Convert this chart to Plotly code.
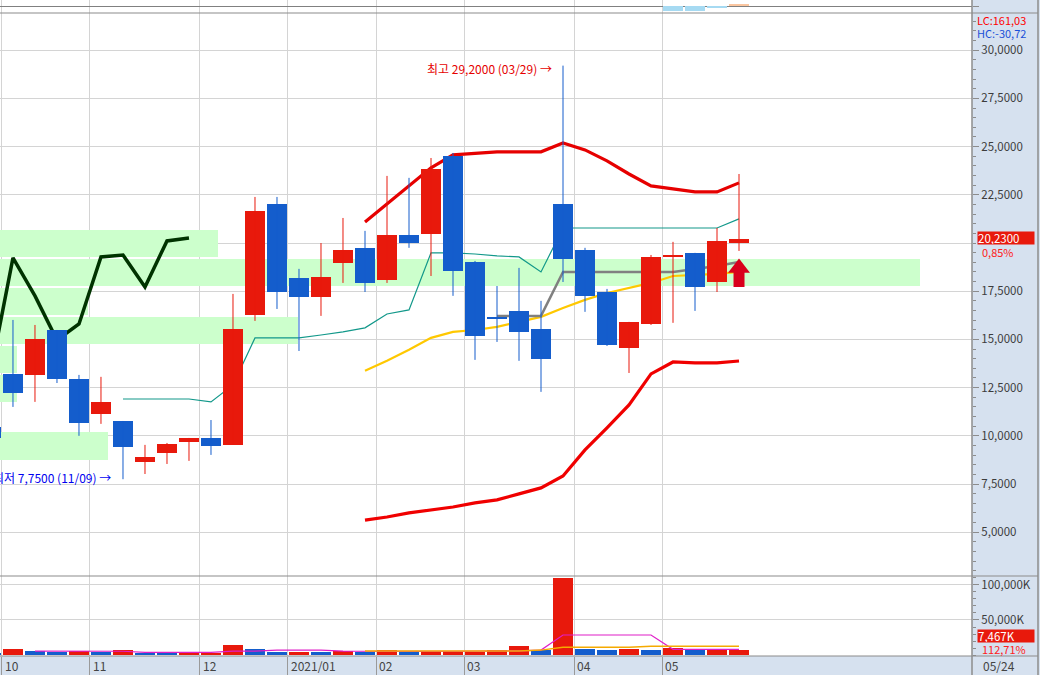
import plotly.graph_objects as go
from datetime import date

# ---------------- data (weekly, 2020-09-28 .. 2021-05-24) ----------------
weeks = ["2020-09-28", "2020-10-05", "2020-10-12", "2020-10-19", "2020-10-26",
         "2020-11-02", "2020-11-09", "2020-11-16", "2020-11-23", "2020-11-30",
         "2020-12-07", "2020-12-14", "2020-12-21", "2020-12-28", "2021-01-04",
         "2021-01-11", "2021-01-18", "2021-01-25", "2021-02-01", "2021-02-08",
         "2021-02-15", "2021-02-22", "2021-03-01", "2021-03-08", "2021-03-15",
         "2021-03-22", "2021-03-29", "2021-04-05", "2021-04-12", "2021-04-19",
         "2021-04-26", "2021-05-03", "2021-05-10", "2021-05-17", "2021-05-24"]

opens = [10.46, 13.21, 13.16, 15.49, 12.95, 11.14, 10.77, 8.65, 9.11, 9.68,
         9.89, 9.53, 16.27, 22.03, 18.19, 17.20, 18.97, 19.75, 18.09, 20.42,
         20.47, 24.52, 19.02, 16.15, 16.48, 15.54, 22.03, 19.64, 17.46, 14.56,
         15.80, 19.28, 19.49, 17.98, 20.00]
highs = [10.82, 16.01, 15.75, 15.49, 13.16, 13.06, 10.77, 9.53, 9.63, 9.89,
         10.82, 17.36, 22.39, 22.39, 18.66, 20.00, 21.30, 20.63, 23.48, 23.38,
         24.41, 24.67, 19.07, 17.77, 18.71, 17.00, 29.20, 19.75, 17.62, 15.91,
         19.38, 20.06, 19.49, 20.78, 23.58]
lows = [9.50, 11.50, 11.76, 12.74, 10.00, 10.62, 7.75, 8.02, 8.54, 8.70,
        9.01, 9.53, 15.96, 16.58, 14.40, 16.22, 17.93, 17.46, 17.93, 19.75,
        18.29, 17.26, 13.94, 14.87, 13.89, 12.28, 17.98, 16.43, 14.66, 13.26,
        15.75, 15.86, 16.48, 17.46, 19.59]
closes = [9.89, 12.23, 15.03, 12.95, 10.67, 11.76, 9.42, 8.91, 9.58, 9.89,
          9.48, 15.54, 21.67, 17.46, 17.20, 18.24, 19.64, 17.93, 20.42, 20.00,
          23.84, 18.55, 15.18, 16.09, 15.39, 13.99, 19.18, 17.26, 14.71, 15.91,
          19.28, 19.36, 17.72, 20.11, 20.23]

# volume in K
volumes_k = [2900, 8600, 5700, 4700, 5700, 4700, 7100, 3300, 3300, 3400,
             3500, 14300, 8600, 4300, 4400, 4300, 5700, 4200, 7100, 4300,
             4400, 4500, 5000, 7100, 12900, 7000, 110000, 8500, 7200, 8400,
             7100, 10000, 7000, 8300, 7467]
volume_up = [0, 1, 0, 0, 1, 0, 1, 0, 0, 1,
             1, 1, 0, 0, 1, 0, 1, 0, 1, 0,
             1, 1, 1, 1, 1, 0, 1, 0, 0, 1,
             0, 1, 0, 1, 1]
# volume averages (start at week index 2 and 17 respectively)
vol_avg_short = [5700, 5600, 5600, 5600, 5400, 3900, 3900, 3900, 3900, 5600,
                 5700, 7100, 7100, 7100, 5700, 5400, 5300, 5300, 5300, 5300,
                 5300, 5700, 6000, 7100, 28600, 28600, 28600, 28600, 28600, 8100,
                 8100, 8100, 8100]
vol_avg_long = [5700, 5700, 5700, 5700, 5700, 5700, 5700, 5800, 7000, 11000,
                11000, 11000, 11000, 12400, 12400, 12400, 12400, 12400]

# price overlays
band_upper = [21.09, 22.03, 22.96, 23.90, 24.57, 24.67, 24.73, 24.73, 24.73, 25.19,
              24.83, 24.26, 23.58, 22.96, 22.81, 22.65, 22.65, 23.12]
band_lower = [5.63, 5.79, 6.00, 6.16, 6.31, 6.52, 6.68, 6.99, 7.30, 7.92,
              9.27, 10.41, 11.60, 13.21, 13.83, 13.78, 13.78, 13.88]
avg_yellow = [13.37, 13.89, 14.46, 15.08, 15.39, 15.49, 15.65, 15.91, 16.17, 16.63,
              17.05, 17.41, 17.67, 17.93, 18.29, 18.34, 18.40, 18.50]
line_teal = [11.91, 11.91, 11.91, 11.91, 11.76, 12.64, 15.08, 15.08, 15.08, 15.23,
             15.39, 15.60, 16.32, 16.53, 19.49, 19.49, 19.43, 19.33, 19.28, 18.50,
             20.78, 20.78, 20.78, 20.78, 20.78, 20.78, 20.78, 20.78, 21.25]
line_gray = [16.22, 16.22, 16.22, 18.50, 18.50, 18.50, 18.50, 18.50, 18.50, 18.65,
             18.81, 19.02]
line_darkgreen = [13.37, 19.23, 17.26, 14.97, 15.80, 19.28, 19.38, 17.72, 20.11, 20.26]

# volume-by-price profile (bin lower edge, bin size 1.5, relative amount %)
profile_low = [8.72, 10.22, 11.72, 13.22, 14.72, 16.22, 17.72, 19.22]
profile_pct = [11.7, 0.0, 1.8, 1.8, 32.4, 9.6, 100.0, 23.7]
PROFILE_BIN = 1.5

# top oscillator strip (last 4 weeks)
osc_vals = [-0.45, -0.45, -0.13, 0.23]
osc_up = [0, 0, 0, 1]

# buy-signal arrow on last week
signal_bottom = [17.72]
signal_head = [18.71]

price_ticks = [5.0, 7.5, 10.0, 12.5, 15.0, 17.5, 20.0, 22.5, 25.0, 27.5, 30.0]
vol_ticks = [50000, 100000]
vol_tick_text = ["50,000K", "100,000K"]

# ---------------- styles ----------------
RED = "#e8190c"
BLUE = "#145dcc"
FONT = "Noto Sans CJK KR, DejaVu Sans, sans-serif"
X_RANGE = [-0.59, 43.59]
PROFILE_LEN = 920 / 22  # longest profile bar, in week units

xs = list(range(-1, len(weeks) - 1))


def sub(lst, start):
    return xs[start:start + len(lst)]


fig = go.Figure()

# ---- volume-by-price profile (main y, bars sit below line traces) ----
fig.add_trace(go.Bar(
    orientation="h",
    y=[lo + PROFILE_BIN / 2 for lo in profile_low],
    x=[p / 100 * PROFILE_LEN for p in profile_pct],
    base=X_RANGE[0], width=PROFILE_BIN - 0.08,
    marker=dict(color="#ccffcc", line=dict(width=0)), hoverinfo="skip"))

# ---- price overlays (main y) ----
fig.add_trace(go.Scatter(x=sub(line_darkgreen, 0), y=line_darkgreen, mode="lines",
                         line=dict(color="#003300", width=3.5), hoverinfo="skip"))
fig.add_trace(go.Scatter(x=sub(line_teal, 6), y=line_teal, mode="lines",
                         line=dict(color="#12988a", width=1.2), hoverinfo="skip"))
fig.add_trace(go.Scatter(x=sub(avg_yellow, 17), y=avg_yellow, mode="lines",
                         line=dict(color="#ffc800", width=2.2), hoverinfo="skip"))
fig.add_trace(go.Scatter(x=sub(line_gray, 23), y=line_gray, mode="lines",
                         line=dict(color="#808080", width=2.5), hoverinfo="skip"))
fig.add_trace(go.Scatter(x=sub(band_upper, 17), y=band_upper, mode="lines",
                         line=dict(color="#e60000", width=3.2), hoverinfo="skip"))
fig.add_trace(go.Scatter(x=sub(band_lower, 17), y=band_lower, mode="lines",
                         line=dict(color="#f00000", width=3.2), hoverinfo="skip"))

# ---- candles (overlay y2, drawn above overlays) ----
up = [c >= o for o, c in zip(opens, closes)]
body_base = [min(o, c) for o, c in zip(opens, closes)]
body_h = [abs(c - o) for o, c in zip(opens, closes)]
body_col = [RED if u else BLUE for u in up]

for is_up, col in ((True, RED), (False, BLUE)):
    wx, wy = [], []
    for x, h, l, u in zip(xs, highs, lows, up):
        if u == is_up:
            wx += [x, x, None]
            wy += [l, h, None]
    fig.add_trace(go.Scatter(x=wx, y=wy, mode="lines", yaxis="y2",
                             line=dict(color=col, width=1), hoverinfo="skip"))

fig.add_trace(go.Bar(x=xs, y=body_h, base=body_base, yaxis="y2", width=0.95,
                     marker=dict(color=body_col, line=dict(width=0)), hoverinfo="skip"))

# signal arrow
fig.add_trace(go.Scatter(x=[xs[-1], xs[-1]], y=[signal_bottom[0], signal_head[0] - 0.12],
                         yaxis="y2", mode="lines",
                         line=dict(color="#d9001b", width=11), hoverinfo="skip"))
fig.add_trace(go.Scatter(x=[xs[-1]], y=signal_head, yaxis="y2", mode="markers",
                         marker=dict(symbol="triangle-up", size=19, color="#d9001b",
                                     line=dict(width=0)), hoverinfo="skip"))

# ---- volume panel (y4) ----
fig.add_trace(go.Bar(x=xs, y=volumes_k, yaxis="y4", width=0.95,
                     marker=dict(color=[RED if v else BLUE for v in volume_up],
                                 line=dict(width=0)), hoverinfo="skip"))
fig.add_trace(go.Scatter(x=sub(vol_avg_short, 2), y=vol_avg_short, yaxis="y4", mode="lines",
                         line=dict(color="#e01ec8", width=1.2), hoverinfo="skip"))
fig.add_trace(go.Scatter(x=sub(vol_avg_long, 17), y=vol_avg_long, yaxis="y4", mode="lines",
                         line=dict(color="#f5aa00", width=1.5), hoverinfo="skip"))

# ---- top strip (y3) ----
fig.add_trace(go.Bar(x=xs[-len(osc_vals):], y=osc_vals, yaxis="y3", width=0.95,
                     marker=dict(color=["#fbc6a0" if u else "#a6daf2" for u in osc_up],
                                 line=dict(width=0)), hoverinfo="skip"))

# ---------------- shapes (panel borders) ----------------
shapes = []
RIGHT_EDGE = 1038 / 972
BORDER = "#8c8c8c"
for yp in (643 / 656, 80 / 656, 0.0):
    shapes.append(dict(type="line", xref="paper", yref="paper", x0=0, x1=RIGHT_EDGE,
                       y0=yp, y1=yp, line=dict(color=BORDER, width=1.2), layer="above"))
for xp in (1.0, RIGHT_EDGE):
    shapes.append(dict(type="line", xref="paper", yref="paper", x0=xp, x1=xp,
                       y0=-19 / 656, y1=1, line=dict(color=BORDER, width=1.5), layer="above"))

# ---------------- annotations ----------------
ann = []
hi_i = highs.index(max(highs))
lo_i = lows.index(min(lows))


def fmt4(v):
    return f"{v:.4f}".replace(".", ",")


def mmdd(s):
    return s[5:7] + "/" + s[8:10]


ann.append(dict(x=xs[hi_i], y=highs[hi_i], xref="x", yref="y",
                text=f"최고 {fmt4(highs[hi_i])} ({mmdd(weeks[hi_i])}) →",
                showarrow=False, xanchor="right", yanchor="middle", xshift=-9, yshift=-3,
                font=dict(family=FONT, size=12, color="#e60000")))
ann.append(dict(x=xs[lo_i], y=lows[lo_i], xref="x", yref="y",
                text=f"최저 {fmt4(lows[lo_i])} ({mmdd(weeks[lo_i])}) →",
                showarrow=False, xanchor="right", yanchor="middle", xshift=-10, yshift=2,
                font=dict(family=FONT, size=12, color="#0000f0")))

# month labels in bottom strip
month_pos = []
prev = None
for i, w in enumerate(weeks):
    d = date.fromisoformat(w)
    if prev is not None and d.month != prev.month:
        label = f"{d.year}/{d.month:02d}" if d.year != prev.year else f"{d.month:02d}"
        month_pos.append(xs[i] - 0.5)
        ann.append(dict(x=xs[i] - 0.5, y=-9 / 656, xref="x", yref="paper", text=label,
                        showarrow=False, xanchor="left", yanchor="middle", xshift=1,
                        font=dict(family=FONT, size=12, color="#444444")))
    prev = d

ann.append(dict(x=981 / 972, y=-9 / 656, xref="paper", yref="paper", text=mmdd(weeks[-1]),
                showarrow=False, xanchor="left", yanchor="middle",
                font=dict(family=FONT, size=12, color="#444444")))

ann.append(dict(x=975 / 972, y=(656 - 20) / 656, xref="paper", yref="paper", text="LC:161,03",
                showarrow=False, xanchor="left", yanchor="middle",
                font=dict(family=FONT, size=11, color="#ff0000")))
ann.append(dict(x=975 / 972, y=(656 - 33) / 656, xref="paper", yref="paper", text="HC:-30,72",
                showarrow=False, xanchor="left", yanchor="middle",
                font=dict(family=FONT, size=11, color="#1a50d8")))

last_close = closes[-1]
chg = 0.85
ann.append(dict(x=977 / 972, y=last_close, xref="paper", yref="y",
                text=fmt4(last_close), showarrow=False, xanchor="left", yanchor="middle",
                yshift=1, bgcolor=RED, width=56, height=12, align="left", borderpad=0,
                font=dict(family=FONT, size=11.5, color="white")))
ann.append(dict(x=980 / 972, y=last_close, xref="paper", yref="y",
                text=f"{chg:.2f}%".replace(".", ","), showarrow=False, xanchor="left",
                yanchor="middle", yshift=-13,
                font=dict(family=FONT, size=11, color="#ff2020")))
ann.append(dict(x=977 / 972, y=20 / 656, xref="paper", yref="paper",
                text=f"{volumes_k[-1]:,}K", showarrow=False, xanchor="left", yanchor="middle",
                bgcolor=RED, width=56, height=12, align="left", borderpad=0,
                font=dict(family=FONT, size=11.5, color="white")))
ann.append(dict(x=980 / 972, y=7 / 656, xref="paper", yref="paper",
                text="112,71%", showarrow=False, xanchor="left", yanchor="middle",
                font=dict(family=FONT, size=11, color="#ff2020")))

# ---------------- layout ----------------
PR = [2.73, 31.93]
TICKC = "#8c8c8c"
GRID = "#d4d4d4"
tickfont = dict(family=FONT, size=11.5, color="#3c3c3c")
# the current-price box hides the nearby 20,0000 label, as in the original
price_tick_text = ["" if abs(v - last_close) < 1.0 else fmt4(v) for v in price_ticks]

fig.update_layout(
    template="none",
    width=1040, height=675,
    margin=dict(l=0, r=68, t=0, b=19, autoexpand=False),
    paper_bgcolor="#d6e1ef", plot_bgcolor="white",
    showlegend=False, barmode="overlay", bargap=0,
    font=dict(family=FONT, size=12, color="#333333"),
    xaxis=dict(range=X_RANGE, anchor="y4", tickmode="array", tickvals=month_pos,
               showticklabels=False, ticks="outside", ticklen=19, tickcolor="#9a9a9a",
               showgrid=True, gridcolor=GRID, gridwidth=1, zeroline=False, showline=False,
               automargin=False),
    yaxis=dict(domain=[80 / 656, 643 / 656], range=PR, side="right", anchor="x",
               tickmode="array", tickvals=price_ticks, ticktext=price_tick_text,
               ticks="outside", ticklen=6, tickcolor=TICKC, tickfont=tickfont,
               minor=dict(tickmode="array",
                          tickvals=[2.5 + 0.5 * i for i in range(60)],
                          ticks="outside", ticklen=3, tickcolor=TICKC, showgrid=False),
               showgrid=True, gridcolor=GRID, gridwidth=1, zeroline=False, showline=False,
               automargin=False),
    yaxis2=dict(overlaying="y", range=PR, visible=False, anchor="x", automargin=False),
    yaxis3=dict(domain=[643 / 656, 1], range=[-0.67, 0.63], side="right", anchor="x",
                tickmode="array", tickvals=[0], ticktext=["0,00"], ticks="outside",
                ticklen=6, tickcolor=TICKC, tickfont=tickfont, showgrid=False,
                zeroline=True, zerolinecolor="#808080", zerolinewidth=1.2, showline=False,
                automargin=False),
    yaxis4=dict(domain=[0, 80 / 656], range=[-1400, 112800], side="right", anchor="x",
                tickmode="array", tickvals=vol_ticks, ticktext=vol_tick_text,
                ticks="outside", ticklen=6, tickcolor=TICKC, tickfont=tickfont,
                minor=dict(tickmode="array", tickvals=[10000 * i for i in range(12)],
                           ticks="outside", ticklen=3, tickcolor=TICKC, showgrid=False),
                showgrid=True, gridcolor=GRID, gridwidth=1, zeroline=False, showline=False,
                automargin=False),
    shapes=shapes,
    annotations=ann,
)

fig.write_html("out.html", config={"displayModeBar": False},
               post_script="document.body.style.margin='0px';document.body.style.overflow='hidden';")
